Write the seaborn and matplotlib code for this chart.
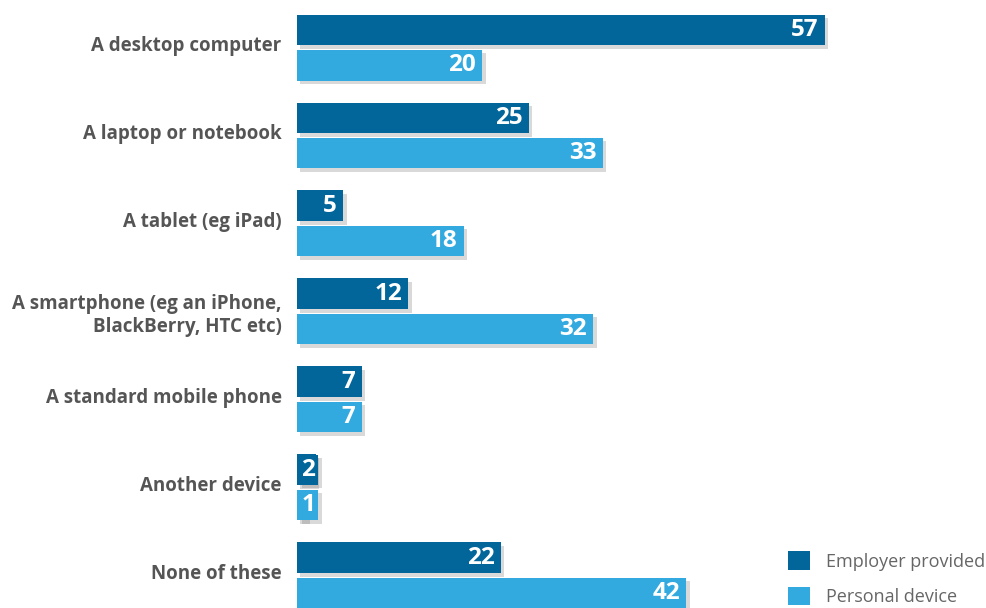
import matplotlib
matplotlib.use("Agg")
import matplotlib.pyplot as plt
import matplotlib.patheffects as pe
from matplotlib.patches import Patch
import matplotlib.transforms as mtrans
import seaborn as sns
import pandas as pd

categories = [
    "A desktop computer",
    "A laptop or notebook",
    "A tablet (eg iPad)",
    "A smartphone (eg an iPhone,\nBlackBerry, HTC etc)",
    "A standard mobile phone",
    "Another device",
    "None of these",
]
employer_provided = [57, 25, 5, 12, 7, 2, 22]
personal_device = [20, 33, 18, 32, 7, 1, 42]
series = ["Employer provided", "Personal device"]
colors = ["#02669B", "#32AAE0"]

df = pd.DataFrame({
    "category": categories * 2,
    "value": employer_provided + personal_device,
    "series": [series[0]] * len(categories) + [series[1]] * len(categories),
})

sns.set_style("white")
plt.rcParams["font.family"] = ["Open Sans", "DejaVu Sans"]

fig = plt.figure(figsize=(9.87, 6.08), dpi=100)
ax = fig.add_axes([297 / 987, 0, 1 - 297 / 987, 1])

sns.barplot(data=df, y="category", x="value", hue="series", order=categories,
            hue_order=series, palette=colors, orient="h", width=0.8, gap=0.125,
            legend=False, ax=ax, linewidth=0, saturation=1)

ax.set_xlim(0, 690 / 9.263)
ax.set_ylim(6.37, -0.54)

shadow = [pe.SimplePatchShadow(offset=(2.5, -2.5), alpha=0.28, shadow_rgbFace="#777777"), pe.Normal()]
px_per_unit = 9.263
for cont, col in zip(ax.containers, colors):
    for bar in cont:
        bar.set_path_effects(shadow)
        v = bar.get_width()
        yc = bar.get_y() + bar.get_height() / 2
        label = f"{int(v)}"
        if v * px_per_unit >= 30:
            ax.annotate(label, (v, yc), xytext=(-4.5, 0), textcoords="offset points",
                        ha="right", va="center", color="white", fontsize=17.5,
                        fontweight="bold")
        else:
            ax.annotate(label, (0, yc), xytext=(3.2, 0), textcoords="offset points",
                        ha="left", va="center", color="white", fontsize=17.5,
                        fontweight="bold",
                        bbox=dict(boxstyle="square,pad=0.13", fc=col, ec="none",
                                  path_effects=shadow))

ax.set_xlabel("")
ax.set_ylabel("")
ax.set_xticks([])
for s in ax.spines.values():
    s.set_visible(False)
ax.tick_params(axis="y", length=0, pad=11)
for lbl in ax.get_yticklabels():
    lbl.set_fontsize(13.5)
    lbl.set_fontweight("bold")
    lbl.set_color("#555555")
    lbl.set_ha("right")
    lbl.set_multialignment("right")
    if "\n" not in lbl.get_text():
        lbl.set_transform(lbl.get_transform() + mtrans.ScaledTranslation(0, 3 / 72, fig.dpi_scale_trans))

handles = [Patch(facecolor=c, edgecolor="none") for c in colors]
leg = ax.legend(handles, series, loc="lower right", bbox_to_anchor=(1.0, 0.0),
                frameon=False, fontsize=13, handlelength=1.2, handleheight=1.2,
                handletextpad=0.9, labelspacing=0.9, borderaxespad=0.0, borderpad=0.1)
for t in leg.get_texts():
    t.set_color("#666666")

fig.savefig("out.png", dpi=100)
